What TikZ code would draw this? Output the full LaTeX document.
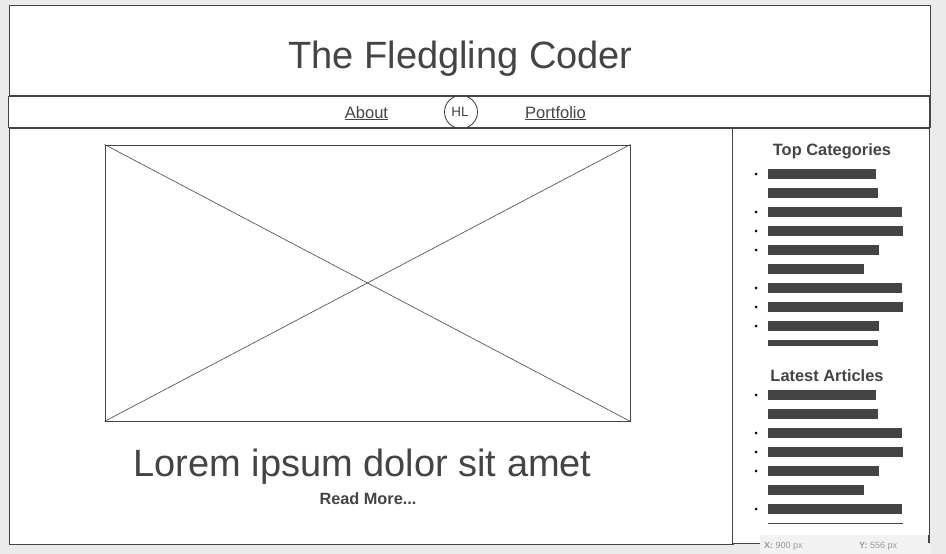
\documentclass[tikz,border=0pt]{standalone}
\usepackage{fontspec}
\setmainfont{Liberation Sans}
\definecolor{ink}{HTML}{444444}
\definecolor{canvas}{HTML}{EBEBEB}
\definecolor{statusbg}{HTML}{F2F2F2}
\definecolor{statusfg}{HTML}{999999}
\begin{document}
\begin{tikzpicture}[x=1pt,y=-1pt,
  frame/.style={draw=ink,line width=1.2pt},
  navline/.style={draw=ink,line width=2pt},
  txt/.style={inner sep=0pt,anchor=base,text=ink},
  barfill/.style={fill=ink},
  bullet/.style={fill=black,circle,inner sep=0pt,minimum size=3pt},
  navlink/.style={txt,font=\fontsize{16.5}{16.5}\selectfont},
  sidehead/.style={txt,font=\fontsize{16.4}{16.4}\selectfont\bfseries}]
% canvas
\fill[canvas] (0,0) rectangle (946,554);
\useasboundingbox (0,0) rectangle (946,554);

% page frames
\node[frame,fill=white,inner sep=0pt,anchor=north west,minimum width=921pt,minimum height=92pt] (header) at (8.5,4.5) {};
\node[frame,fill=white,inner sep=0pt,anchor=north west,minimum width=724pt,minimum height=416pt] (main) at (8.5,128) {};
\node[frame,fill=white,inner sep=0pt,anchor=north west,minimum width=197pt,minimum height=415pt] (side) at (732,128) {};
\node[fill=white,inner sep=0pt,anchor=north west,minimum width=921pt,minimum height=32pt] (nav) at (8.5,96) {};
\draw[navline] (nav.north west) -- (nav.north east);
\draw[navline] (nav.south west) -- (nav.south east);
\draw[frame] (nav.north west) -- (nav.south west);
\draw[frame] (nav.north east) -- (nav.south east);

% header title
\node[txt,font=\fontsize{38}{38}\selectfont] (title) at (460.5,68) {The Fledgling Coder};

% navigation
\node[navlink] (about) at (366.5,118) {\underline{About}};
\node[draw=ink,line width=0.9pt,circle,minimum size=33pt,inner sep=0pt] (logo) at (461,112) {};
\node[txt,font=\fontsize{13.5}{13.5}\selectfont] (logotext) at (460,116.5) {HL};
\node[navlink] (portfolio) at (555.5,118) {\underline{Portfolio}};

% image placeholder
\node[draw=ink,line width=0.9pt,inner sep=0pt,anchor=north west,minimum width=525pt,minimum height=276pt] (img) at (104.5,144.5) {};
\draw[ink,line width=0.6pt] (img.north west) -- (img.south east);
\draw[ink,line width=0.6pt] (img.south west) -- (img.north east);

% article teaser
\node[txt,font=\fontsize{38}{38}\selectfont] (headline) at (362.5,476) {Lorem ipsum dolor sit amet};
\node[txt,font=\fontsize{16.3}{16.3}\selectfont\bfseries] (readmore) at (368,504) {Read More...};

% sidebar: top categories
\node[sidehead] (cathead) at (832,155) {Top Categories};
\foreach \y/\e in {169/876,188/878,207/902,226/903,245/879,264/864,283/902,302/903,321/879}
  \fill[barfill] (768,\y) rectangle (\e,\y+10);
\fill[barfill] (768,340) rectangle (878,346);
\foreach \y in {174,212,231,250,288,307,326}
  \node[bullet] at (756,\y) {};

% sidebar: latest articles
\node[sidehead] (arthead) at (827,381) {Latest Articles};
\foreach \y/\e in {390/876,409/878,428/902,447/903,466/879,485/864,504/902}
  \fill[barfill] (768,\y) rectangle (\e,\y+10);
\draw[ink,line width=1pt] (768,523) -- (903,523);
\foreach \y in {395,433,452,471,509}
  \node[bullet] at (756,\y) {};

% cursor status strip
\fill[statusbg] (760,535) rectangle (931,554);
\draw[ink,line width=1.2pt] (929,535) -- (929,543);
\node[txt,text=statusfg,font=\fontsize{9}{9}\selectfont,anchor=base west] (xpos) at (764,548) {\textbf{X:} 900 px};
\node[txt,text=statusfg,font=\fontsize{9}{9}\selectfont,anchor=base west] (ypos) at (859,548) {\textbf{Y:} 556 px};
\end{tikzpicture}
\end{document}
